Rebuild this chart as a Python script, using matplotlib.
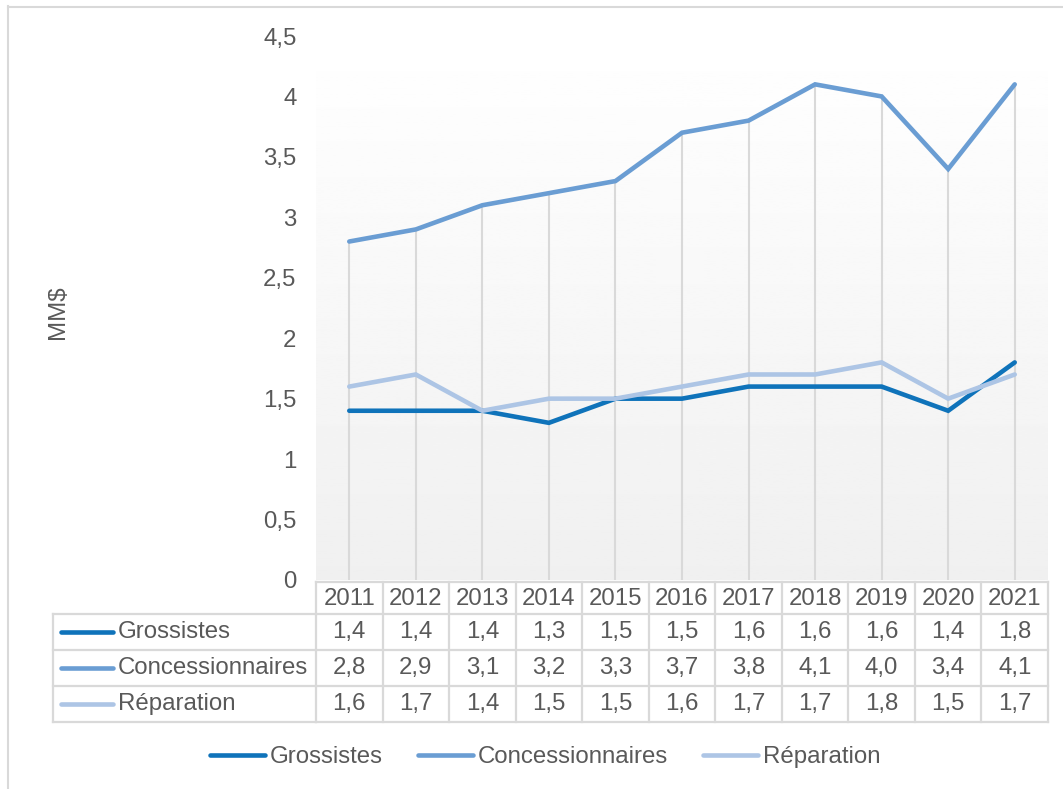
import numpy as np
import matplotlib
matplotlib.use("Agg")
import matplotlib.pyplot as plt
from matplotlib.transforms import blended_transform_factory
from matplotlib.lines import Line2D

plt.rcParams["font.family"] = ["Liberation Sans", "DejaVu Sans"]

years = ["2011", "2012", "2013", "2014", "2015", "2016",
         "2017", "2018", "2019", "2020", "2021"]
grossistes = [1.4, 1.4, 1.4, 1.3, 1.5, 1.5, 1.6, 1.6, 1.6, 1.4, 1.8]
concessionnaires = [2.8, 2.9, 3.1, 3.2, 3.3, 3.7, 3.8, 4.1, 4.0, 3.4, 4.1]
reparation = [1.6, 1.7, 1.4, 1.5, 1.5, 1.6, 1.7, 1.7, 1.8, 1.5, 1.7]
series_names = ["Grossistes", "Concessionnaires", "Réparation"]
series_values = [grossistes, concessionnaires, reparation]
y_ticks = [0, 0.5, 1, 1.5, 2, 2.5, 3, 3.5, 4, 4.5]

colors = ["#0f73ba", "#6a9dd3", "#adc5e5"]
text_col = "#595959"
grid_col = "#d9d9d9"
fs = 17.3

W, H = 1063, 789
fig = plt.figure(figsize=(W / 100, H / 100), dpi=100)

# overlay in pixel coordinates for borders and table
ov = fig.add_axes([0, 0, 1, 1], zorder=0)
ov.set_xlim(0, W)
ov.set_ylim(H, 0)
ov.axis("off")

ax = fig.add_axes([316 / W, 1 - 580 / H, 732 / W, 544 / H], zorder=1)
ax.patch.set_alpha(0)
x = np.arange(len(years))

# gradient plot area
grad = np.linspace(1.0, 0.94, 256).reshape(-1, 1)
ax.imshow(grad, cmap="gray", vmin=0, vmax=1, aspect="auto",
          extent=[-0.5, len(years) - 0.5, 0, 4.5], origin="upper", zorder=0)

# drop lines
tops = np.max(np.array(series_values), axis=0)
ax.vlines(x, 0, tops, color=grid_col, lw=1.5, zorder=1)

for name, vals, c in zip(series_names, series_values, colors):
    ax.plot(x, vals, color=c, lw=3.3, solid_capstyle="round",
            solid_joinstyle="miter", zorder=3, label=name)

ax.set_xlim(-0.5, len(years) - 0.5)
ax.set_ylim(0, 4.5)
ax.set_yticks(y_ticks)
ax.set_yticklabels([f"{t:g}".replace(".", ",") for t in y_ticks],
                   fontsize=fs, color=text_col)
ax.tick_params(axis="y", length=0, pad=14)
ax.set_xticks([])
for s in ax.spines.values():
    s.set_visible(False)

fig.text(58 / W, 1 - 312 / H, "MM$", rotation=90, ha="center", va="center",
         fontsize=fs, color=text_col)

# outer chart border (cropped)
ov.plot([7.5, 7.5], [6, H], color=grid_col, lw=1.5)
ov.plot([7.5, W], [6.5, 6.5], color=grid_col, lw=1.5)

# data table
tr = blended_transform_factory(ax.transData, ov.transData)
n = len(years)
row_top = 582
row_edges = [614, 650, 686, 722]
tbl_kw = dict(color=grid_col, lw=1.6, zorder=2)
ov.plot([-0.5, n - 0.5], [row_top, row_top], transform=tr, **tbl_kw)
for i in range(n + 1):
    ov.plot([i - 0.5, i - 0.5], [row_top, row_edges[-1]], transform=tr, **tbl_kw)
for yy in row_edges:
    ov.plot([53, 316], [yy, yy], **tbl_kw)
    ov.plot([-0.5, n - 0.5], [yy, yy], transform=tr, **tbl_kw)
ov.plot([53, 53], [row_edges[0], row_edges[-1]], **tbl_kw)

for i, yr in enumerate(years):
    ov.text(i, (row_top + row_edges[0]) / 2 + 1, yr, transform=tr, ha="center",
            va="center", fontsize=fs, color=text_col)
for r, (name, vals, c) in enumerate(zip(series_names, series_values, colors)):
    yc = (row_edges[r] + row_edges[r + 1]) / 2
    ov.plot([61, 113], [yc, yc], color=c, lw=3.3, solid_capstyle="round")
    ov.text(118, yc, name, ha="left", va="center", fontsize=fs, color=text_col)
    for i, v in enumerate(vals):
        ov.text(i, yc, f"{v:.1f}".replace(".", ","), transform=tr,
                ha="center", va="center", fontsize=fs, color=text_col)

# legend
handles = [Line2D([], [], color=c, lw=3.3, solid_capstyle="round") for c in colors]
leg = fig.legend(handles, series_names, loc="center", ncol=3,
                 bbox_to_anchor=(545 / W, 1 - 757 / H), frameon=False,
                 fontsize=fs, handlelength=2.3, handletextpad=0.2,
                 columnspacing=1.45, labelcolor=text_col)

fig.savefig("out.png", dpi=100)
